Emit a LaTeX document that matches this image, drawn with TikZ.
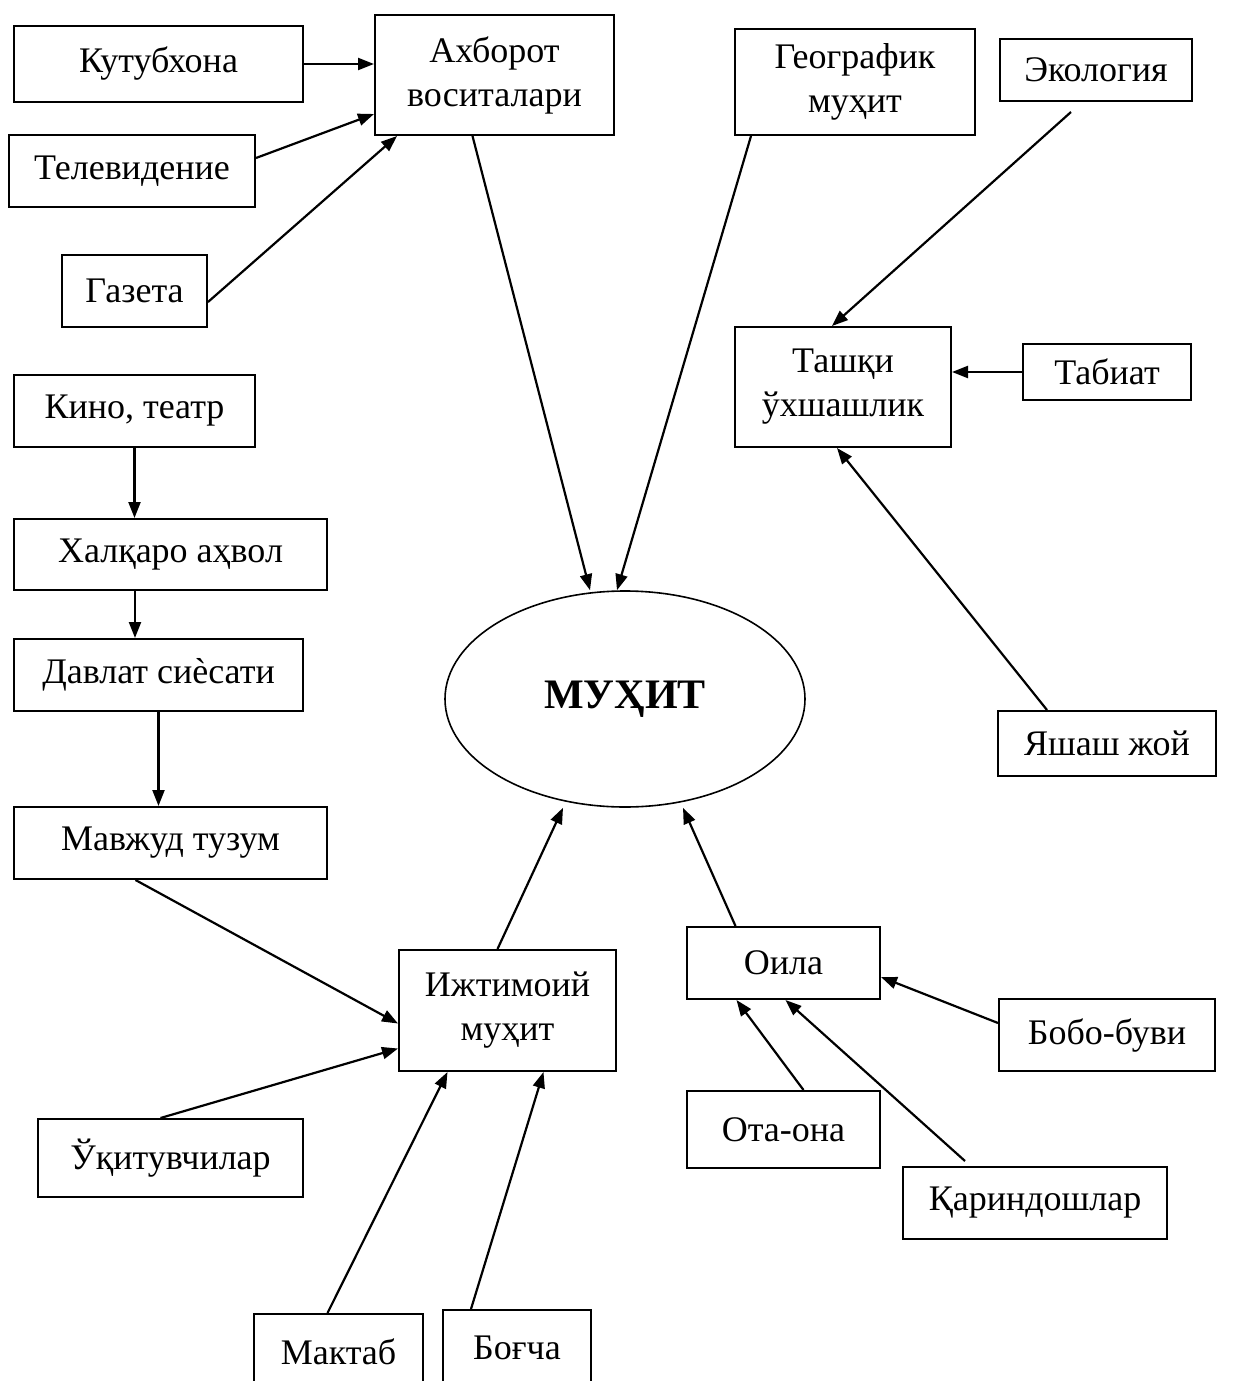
\documentclass[tikz,border=0pt]{standalone}
\usepackage{fontspec}
\setmainfont{Liberation Serif}
\usepackage{tikz}
\usetikzlibrary{arrows.meta,shapes.geometric}

\begin{document}
\begin{tikzpicture}[x = 1pt, y = -1pt, line width = 2.2pt,
        box/.style = {draw, rectangle, line width = 2pt, inner sep = 0pt, align = center, font = \fontsize{36}{44}\selectfont},
        > = {Triangle[length = 16pt, width = 12pt]}]
            \useasboundingbox (0, 0) rectangle (1237, 1381);
            \clip (0, 0) rectangle (1237, 1381);

            \node[box, minimum width = 289pt, minimum height = 76pt] (kut) at (158.5, 64) {Кутубхона};
            \node[box, minimum width = 239pt, minimum height = 120pt] (ahb) at (494.5, 75) {Ахборот\\воситалари};
            \node[box, minimum width = 246pt, minimum height = 72pt] (tel) at (132, 171) {Телевидение};
            \node[box, minimum width = 145pt, minimum height = 72pt] (gaz) at (134.5, 291) {Газета};
            \node[box, minimum width = 240pt, minimum height = 106pt] (geo) at (855, 82) {Географик\\муҳит};
            \node[box, minimum width = 192pt, minimum height = 62pt] (eko) at (1096, 70) {Экология};
            \node[box, minimum width = 216pt, minimum height = 120pt] (tas) at (843, 387) {Ташқи\\ўхшашлик};
            \node[box, minimum width = 168pt, minimum height = 56pt] (tab) at (1107, 372) {Табиат};
            \node[box, minimum width = 241pt, minimum height = 72pt] (kin) at (134.5, 411) {Кино, театр};
            \node[box, minimum width = 313pt, minimum height = 71pt] (hal) at (170.5, 554.5) {Халқаро аҳвол};
            \node[box, minimum width = 289pt, minimum height = 72pt] (dav) at (158.5, 675) {Давлат сиѐсати};
            \node[box, minimum width = 313pt, minimum height = 72pt] (mav) at (170.5, 843) {Мавжуд тузум};
            \node[draw, ellipse, line width = 1.6pt, inner sep = 0pt, minimum width = 360pt, minimum height = 216pt,
                font = \bfseries\fontsize{42}{50}\selectfont] (muh) at (625, 699) {МУҲИТ};
            \node[box, minimum width = 218pt, minimum height = 65pt] (yas) at (1107, 743.5) {Яшаш жой};
            \node[box, minimum width = 217pt, minimum height = 121pt] (ijt) at (507.5, 1010.5) {Ижтимоий\\муҳит};
            \node[box, minimum width = 193pt, minimum height = 72pt] (oil) at (783.5, 963) {Оила};
            \node[box, minimum width = 216pt, minimum height = 72pt] (bob) at (1107, 1035) {Бобо-буви};
            \node[box, minimum width = 265pt, minimum height = 78pt] (uqi) at (170.5, 1158) {Ўқитувчилар};
            \node[box, minimum width = 193pt, minimum height = 77pt] (ota) at (783.5, 1129.5) {Ота-она};
            \node[box, minimum width = 264pt, minimum height = 72pt] (qar) at (1035, 1203) {Қариндошлар};
            \node[box, minimum width = 169pt, minimum height = 76pt] (mak) at (338.5, 1352) {Мактаб};
            \node[box, minimum width = 148pt, minimum height = 76pt] (bog) at (517, 1348) {Боғча};

            \draw[->] (kut.east) -- (kut.east -| ahb.west);
            \draw[->] ([yshift = 13pt]tel.east) -- ([yshift = 22pt]ahb.south west);
            \draw[->] ([yshift = -11pt]gaz.east) -- ([xshift = 23pt]ahb.south west);
            \draw[->] ([xshift = -22pt]ahb.south) -- ([xshift = -35pt]muh.north);
            \draw[->] ([xshift = 17pt]geo.south west) -- ([xshift = -8pt]muh.north);
            \draw[->] ([xshift = -25pt, yshift = -10pt]eko.south) -- ([xshift = -11pt]tas.north);
            \draw[->] (tab.west) -- (tab.west -| tas.east);
            \draw[->] ([xshift = -60pt]yas.north) -- ([xshift = -6pt]tas.south);
            \draw[->] (kin.south) -- (kin.south |- hal.north);
            \draw[->] ([xshift = -35.5pt]hal.south) -- ([xshift = -35.5pt]hal.south |- dav.north);
            \draw[->] (dav.south) -- (dav.south |- mav.north);
            \draw[->] ([xshift = -35pt]mav.south) -- ([yshift = -13pt]ijt.west);
            \draw[->] ([xshift = -10pt]uqi.north) -- ([yshift = -38pt]ijt.west);
            \draw[->] ([xshift = -11pt]mak.north) -- ([xshift = -60pt]ijt.south);
            \draw[->] ([xshift = -46pt]bog.north) -- ([xshift = 36pt]ijt.south);
            \draw[->] ([xshift = -10pt]ijt.north) -- ([xshift = -62pt]muh.south);
            \draw[->] ([xshift = -48pt]oil.north) -- ([xshift = 58pt]muh.south);
            \draw[->] ([yshift = 12pt]bob.west) -- ([yshift = -14pt]oil.east);
            \draw[->] ([xshift = 20pt]ota.north) -- ([xshift = -47pt]oil.south);
            \draw[->] ([xshift = -70pt, yshift = 5pt]qar.north) -- ([xshift = 2pt]oil.south);

        \end{tikzpicture}
\end{document}
